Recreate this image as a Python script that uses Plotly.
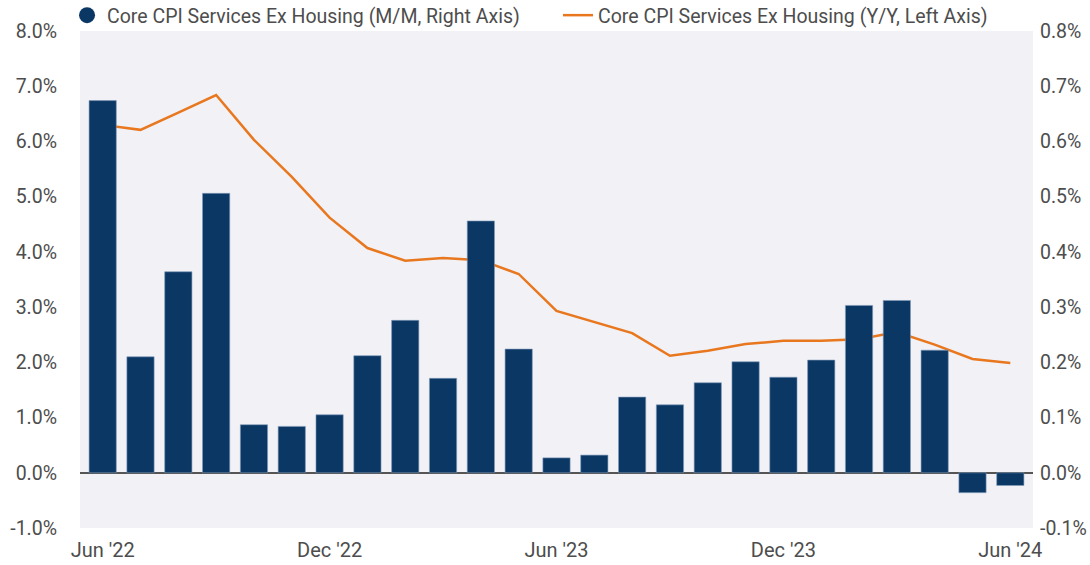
import plotly.graph_objects as go

months = ["Jun '22", "Jul '22", "Aug '22", "Sep '22", "Oct '22", "Nov '22", "Dec '22",
          "Jan '23", "Feb '23", "Mar '23", "Apr '23", "May '23", "Jun '23", "Jul '23",
          "Aug '23", "Sep '23", "Oct '23", "Nov '23", "Dec '23", "Jan '24", "Feb '24",
          "Mar '24", "Apr '24", "May '24", "Jun '24"]

# M/M change, % (right axis)
mm_values = [0.674, 0.210, 0.364, 0.506, 0.087, 0.084, 0.105, 0.212, 0.276, 0.171,
             0.456, 0.224, 0.027, 0.032, 0.137, 0.123, 0.163, 0.201, 0.173, 0.204,
             0.303, 0.312, 0.222, -0.036, -0.023]

# Y/Y change, % (left axis)
yy_values = [6.30, 6.21, 6.52, 6.84, 6.03, 5.36, 4.62, 4.07, 3.84, 3.89, 3.85, 3.60,
             2.93, 2.73, 2.53, 2.12, 2.21, 2.33, 2.39, 2.39, 2.42, 2.55, 2.32, 2.06, 1.99]

left_ticks = [-1, 0, 1, 2, 3, 4, 5, 6, 7, 8]
right_ticks = [-0.1, 0, 0.1, 0.2, 0.3, 0.4, 0.5, 0.6, 0.7, 0.8]
x_tick_labels = ["Jun '22", "Dec '22", "Jun '23", "Dec '23", "Jun '24"]

NAVY = "#0b3765"
ORANGE = "#e8771e"
TEXT = "#4d4d4d"
BG = "#f1f1f6"
FONT = "Roboto"

fig = go.Figure()

fig.add_trace(go.Bar(
    x=months, y=mm_values, yaxis="y2", width=0.72,
    marker=dict(color=NAVY, line=dict(color="#7f9ab8", width=0.6)),
    showlegend=False, name="Core CPI Services Ex Housing (M/M, Right Axis)",
))
# legend proxy for bar series (circle symbol)
fig.add_trace(go.Scatter(
    x=[None], y=[None], mode="markers", yaxis="y2",
    marker=dict(symbol="circle", size=16, color=NAVY),
    name="Core CPI Services Ex Housing (M/M, Right Axis)",
    legend="legend",
))
fig.add_trace(go.Scatter(
    x=months, y=yy_values, mode="lines",
    line=dict(color=ORANGE, width=2.5),
    name="Core CPI Services Ex Housing (Y/Y, Left Axis)",
    legend="legend2",
))

legend_common = dict(
    orientation="h", xanchor="left", y=0.992, yanchor="bottom",
    font=dict(family=FONT, size=19.5, color=TEXT),
    bgcolor="rgba(0,0,0,0)", itemclick=False,
)

fig.update_layout(
    width=1090, height=565,
    margin=dict(l=80, r=57, t=31, b=37, autoexpand=False),
    paper_bgcolor="white",
    plot_bgcolor=BG,
    font=dict(family=FONT, size=19, color=TEXT),
    legend=dict(x=-0.0136, **legend_common),
    legend2=dict(x=0.5016, **legend_common),
    xaxis=dict(
        type="category", categoryorder="array", categoryarray=months,
        range=[-0.6, 24.6],
        tickmode="array", tickvals=x_tick_labels, ticktext=x_tick_labels,
        showgrid=False, zeroline=False, showline=False, ticks="",
        ticklabelstandoff=8,
        tickfont=dict(size=20, color=TEXT),
    ),
    yaxis=dict(
        range=[-1, 8], tickmode="array", tickvals=left_ticks,
        ticktext=[f"{v:.1f}%" for v in left_ticks],
        showgrid=False, zeroline=True, zerolinecolor="#555555", zerolinewidth=1.5,
        showline=False, ticks="", ticklabelstandoff=22,
        tickfont=dict(size=19.5, color=TEXT),
    ),
    yaxis2=dict(
        range=[-0.1, 0.8], overlaying="y", side="right", tickmode="array",
        tickvals=right_ticks, ticktext=[f"{v:.1f}%" for v in right_ticks],
        showgrid=False, zeroline=False, showline=False, ticks="",
        ticklabelstandoff=6, tickfont=dict(size=19.5, color=TEXT),
    ),
)

# remove the page's default 8px body margin so the figure fills the window exactly
fig.write_html(
    "out.html",
    config={"displayModeBar": False},
    post_script="document.body.style.margin='0';document.body.style.overflow='hidden';",
)
